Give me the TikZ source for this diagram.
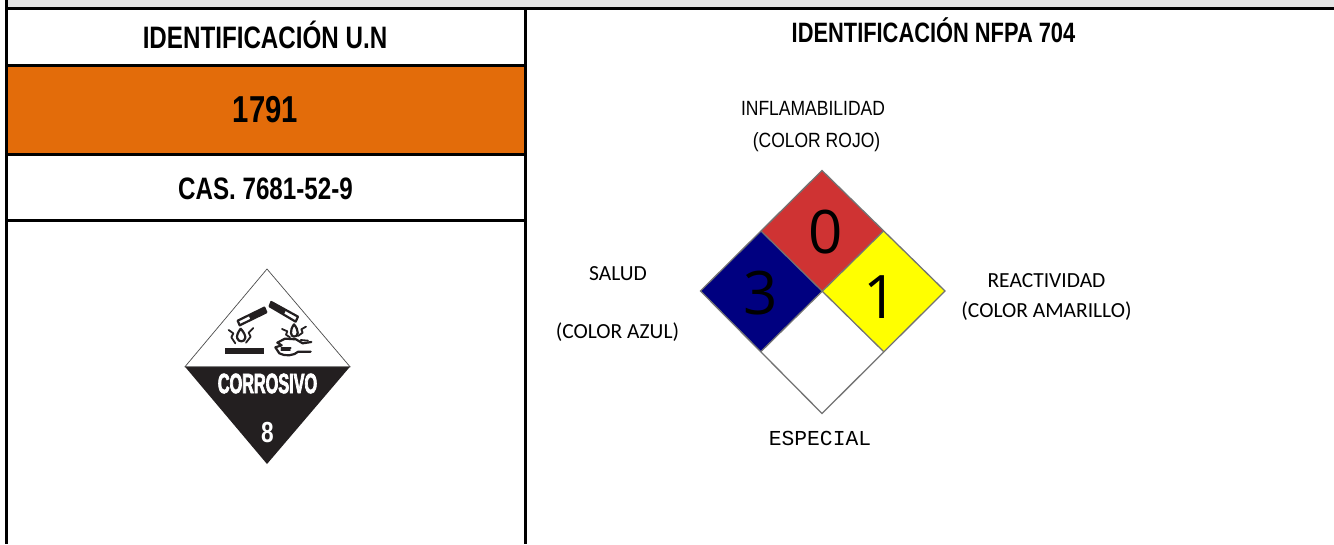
\documentclass[tikz,border=0pt]{standalone}
\usepackage{fontspec}
\setmainfont{Liberation Sans}
\newfontfamily\narrowbold[FakeStretch=0.78]{Liberation Sans Bold}
\newfontfamily\narrowreg[FakeStretch=0.85]{Liberation Sans}
\newfontfamily\placardfont[FakeStretch=0.58,FakeBold=2.5]{Liberation Sans Bold}
\newfontfamily\carlito{Carlito}
\newfontfamily\mono{Liberation Mono}
\newfontfamily\digits{Open Sans}
\definecolor{band}{HTML}{E4E4E4}
\definecolor{orangeun}{HTML}{E36C0A}
\definecolor{nfred}{HTML}{CF3333}
\definecolor{nfblue}{HTML}{000080}
\definecolor{nfyellow}{HTML}{FFFF00}
\definecolor{placard}{HTML}{231F20}
\tikzset{
  rule/.style={line width=3pt,black},
  head/.style={font=\narrowbold\fontsize{31}{34}\selectfont,inner sep=0pt},
  subhead/.style={font=\narrowbold\fontsize{28}{30}\selectfont,inner sep=0pt},
  lab/.style={font=\carlito\fontsize{21.5}{24}\selectfont,inner sep=0pt},
  nlab/.style={font=\narrowreg\fontsize{20.6}{24}\selectfont,inner sep=0pt},
  digit/.style={font=\digits\fontsize{60}{62}\selectfont,inner sep=0pt},
  nfedge/.style={draw=black!55,line width=1.3pt,line join=miter},
  pict/.style={draw=placard,line width=2.2pt,line cap=round,line join=round},
  pictthin/.style={draw=placard,line width=1.8pt,line cap=round,line join=round},
}
\begin{document}
\begin{tikzpicture}[x=1pt,y=-1pt]
\useasboundingbox (0,0) rectangle (1334,544);
\fill[white] (0,0) rectangle (1334,544);
% top band and orange row
\fill[band] (7,0) rectangle (1334,8);
\fill[orangeun] (7,66) rectangle (525,154);
% table rules
\draw[rule] (6.5,0) -- (6.5,544);
\draw[rule] (525,8.5) -- (525,544);
\draw[rule] (5,8.5) -- (1334,8.5);
\draw[rule] (5,65.5) -- (525,65.5);
\draw[rule] (5,154.5) -- (525,154.5);
\draw[rule] (5,220.5) -- (525,220.5);
% left cells
\node[head] (unhead) at (265,34.5) {IDENTIFICACIÓN U.N};
\node[font=\narrowbold\fontsize{37.5}{40}\selectfont,inner sep=0pt] (unnum) at (265.5,110) {1791};
\node[head] (cas) at (265.5,189) {CAS. 7681-52-9};
% right head
\node[subhead] (nfhead) at (933.5,30.5) {IDENTIFICACIÓN NFPA 704};
% corrosive placard
\fill[placard] (185,366.7) -- (350,366.7) -- (267,464) -- cycle;
\draw[draw=black!70,line width=0.7pt,fill=white] (185,366.7) -- (267,269) -- (350,366.7) -- cycle;
\begin{scope}[shift={(170,260)},x=0.3333pt,y=-0.3333pt]
  % left test tube
  \draw[pict] (203,182) -- (283,143) -- (289,157) -- (209,196) -- cycle;
  \fill[placard] (236,166) -- (283,143) -- (289,157) -- (242,180) -- cycle;
  % drop left
  \draw[pict] (212,206) .. controls (192,232) and (204,244) .. (214,244) .. controls (226,244) and (234,230) .. (212,206);
  \draw[pictthin] (176,210) -- (190,220) -- (184,232) -- (196,250);
  \draw[pictthin] (250,204) -- (236,218) -- (242,230) -- (228,248);
  % bar
  \fill[placard] (165,265) rectangle (283,281);
  % right test tube
  \draw[pict] (299,139) -- (304,126) -- (384,170) -- (377,185) -- cycle;
  \fill[placard] (299,139) -- (304,126) -- (348,150) -- (342,163) -- cycle;
  % drop right
  \draw[pict] (372,193) .. controls (358,212) and (362,230) .. (372,230) .. controls (386,230) and (388,212) .. (372,193);
  \draw[pictthin] (336,207) -- (352,214) -- (348,224) -- (360,232);
  \draw[pictthin] (408,200) -- (394,208) -- (398,218) -- (384,228);
  % hand
  \draw[pict] (422,275) -- (385,275) .. controls (372,287) and (345,290) .. (328,280) -- (316,262) -- (335,256) -- (322,248) -- (345,236) -- (378,238) -- (398,250) -- (424,246);
  \draw[pictthin] (334,263) -- (362,263);
  \draw[pictthin] (334,271) -- (360,271);
  \draw[pictthin] (392,240) -- (414,242);
\end{scope}
\node[font=\placardfont\fontsize{28}{30}\selectfont,text=white,inner sep=0pt] (corr) at (267.5,383.5) {CORROSIVO};
\node[font=\narrowbold\fontsize{29}{31}\selectfont,text=white,inner sep=0pt] (eight) at (267.5,433) {8};
% NFPA diamond
\fill[nfred] (822,170.5) -- (883.5,231) -- (822,291) -- (761,231) -- cycle;
\fill[nfblue] (761,231) -- (822,291) -- (761,351.5) -- (700.5,291) -- cycle;
\fill[nfyellow] (883.5,231) -- (945,291) -- (883.5,351.5) -- (822,291) -- cycle;
\draw[nfedge] (822,170.5) -- (945,291) -- (822,413.5) -- (700.5,291) -- cycle;
\draw[nfedge] (761,231) -- (883.5,351.5);
\draw[nfedge] (883.5,231) -- (761,351.5);
\node[digit] (dred) at (826,232) {0};
\node[digit] (dblue) at (761,293) {3};
\node[digit] (dyellow) at (881,297) {1};
% labels
\node[nlab] (infl) at (813,108) {INFLAMABILIDAD};
\node[nlab] (rojo) at (816.5,142) {(COLOR ROJO)};
\node[lab] (salud) at (618,274) {SALUD};
\node[lab] (azul) at (617.5,332) {(COLOR AZUL)};
\node[lab] (react) at (1046.5,281) {REACTIVIDAD};
\node[lab] (amar) at (1046.5,311) {(COLOR AMARILLO)};
\node[font=\mono\fontsize{21.3}{24}\selectfont,inner sep=0pt] (esp) at (820,438) {ESPECIAL};
\end{tikzpicture}
\end{document}
